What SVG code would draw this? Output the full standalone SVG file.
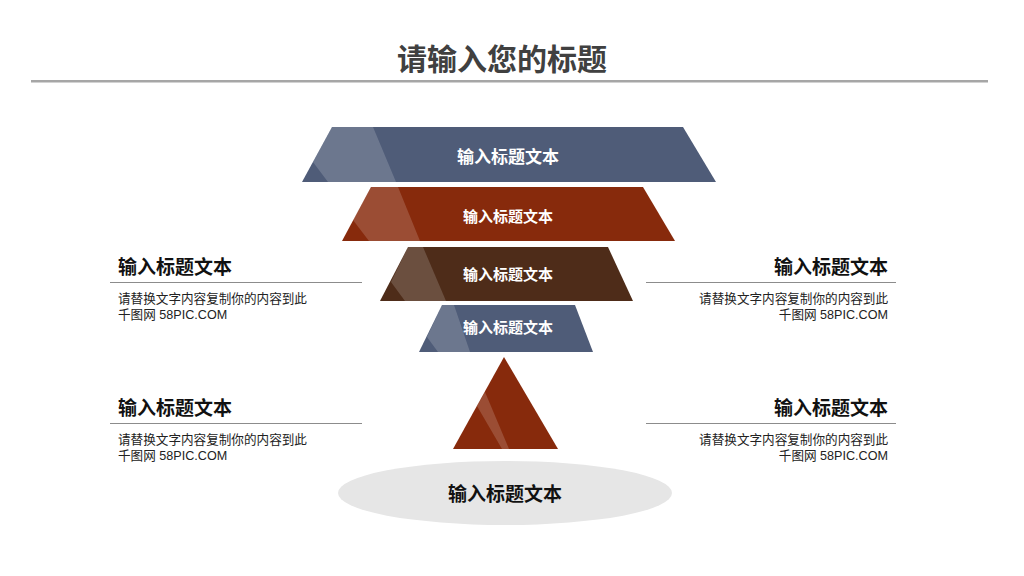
<svg xmlns="http://www.w3.org/2000/svg" width="1024" height="576" viewBox="0 0 1024 576">
<style>
text{font-family:"Noto Sans CJK SC","Liberation Sans",sans-serif;}
.lbl{fill:#ffffff;font-weight:bold;text-anchor:middle;dominant-baseline:central;}
.hl{fill:#ffffff;fill-opacity:0.17;}
.blue{fill:#4f5c78;}
.red{fill:#872a0c;}
.brown{fill:#4e2c19;}
.st{font-size:19px;font-weight:bold;fill:#111111;}
.body{font-family:"Liberation Sans","Noto Sans CJK SC",sans-serif;font-size:12.6px;fill:#222222;}
.sep{stroke:#8c8c8c;stroke-width:1;}
</style>
<rect width="1024" height="576" fill="#ffffff"/>
<g id="header">
<text x="502" y="57" font-size="30" font-weight="bold" fill="#404040" text-anchor="middle" dominant-baseline="central">请输入您的标题</text>
<rect x="31" y="80" width="957" height="2.5" fill="#a6a6a6"/>
</g>
<g id="level1">
<polygon class="blue" points="332,127 683,127 716,182 302,182"/>
<polygon class="hl" points="332,127 373,127 396,182 328,182 313,162"/>
<text class="lbl" x="508" y="155.5" font-size="17">输入标题文本</text>
</g>
<g id="level2">
<polygon class="red" points="371,187 643,187 675,241 342,241"/>
<polygon class="hl" points="371,187 398,187 420,241 369,241 353,220"/>
<text class="lbl" x="508" y="215.5" font-size="15">输入标题文本</text>
</g>
<g id="level3">
<polygon class="brown" points="408,247 608,247 633,301 380,301"/>
<polygon class="hl" points="408,247 423,247 446,301 405,301 391,282"/>
<text class="lbl" x="508" y="273.5" font-size="15">输入标题文本</text>
</g>
<g id="level4">
<polygon class="blue" points="442,305 575,305 593,352 419,352"/>
<polygon class="hl" points="442,305 454,305 470,352 438,352 427,337"/>
<text class="lbl" x="508" y="326" font-size="15">输入标题文本</text>
</g>
<g id="level5">
<polygon class="red" points="504,357 558,449 453,449"/>
<polygon class="hl" points="485,392 477,406 502,449 509,449"/>
</g>
<g id="base">
<ellipse cx="505" cy="493" rx="167" ry="32" fill="#e6e6e6"/>
<text x="505" y="492.5" font-size="19" font-weight="bold" fill="#111111" text-anchor="middle" dominant-baseline="central">输入标题文本</text>
</g>
<g id="note-left-1">
<text class="st" x="118" y="274">输入标题文本</text>
<line class="sep" x1="110" y1="282.5" x2="362" y2="282.5"/>
<text class="body" x="118" y="303">请替换文字内容复制你的内容到此</text>
<text class="body" x="118" y="319">千图网 58PIC.COM</text>
</g>
<g id="note-right-1">
<text class="st" x="888" y="274" text-anchor="end">输入标题文本</text>
<line class="sep" x1="646" y1="282.5" x2="896" y2="282.5"/>
<text class="body" x="888" y="303" text-anchor="end">请替换文字内容复制你的内容到此</text>
<text class="body" x="888" y="319" text-anchor="end">千图网 58PIC.COM</text>
</g>
<g id="note-left-2">
<text class="st" x="118" y="415">输入标题文本</text>
<line class="sep" x1="110" y1="423.5" x2="362" y2="423.5"/>
<text class="body" x="118" y="444">请替换文字内容复制你的内容到此</text>
<text class="body" x="118" y="460">千图网 58PIC.COM</text>
</g>
<g id="note-right-2">
<text class="st" x="888" y="415" text-anchor="end">输入标题文本</text>
<line class="sep" x1="646" y1="423.5" x2="896" y2="423.5"/>
<text class="body" x="888" y="444" text-anchor="end">请替换文字内容复制你的内容到此</text>
<text class="body" x="888" y="460" text-anchor="end">千图网 58PIC.COM</text>
</g>
<g id="connectors"></g>
</svg>
